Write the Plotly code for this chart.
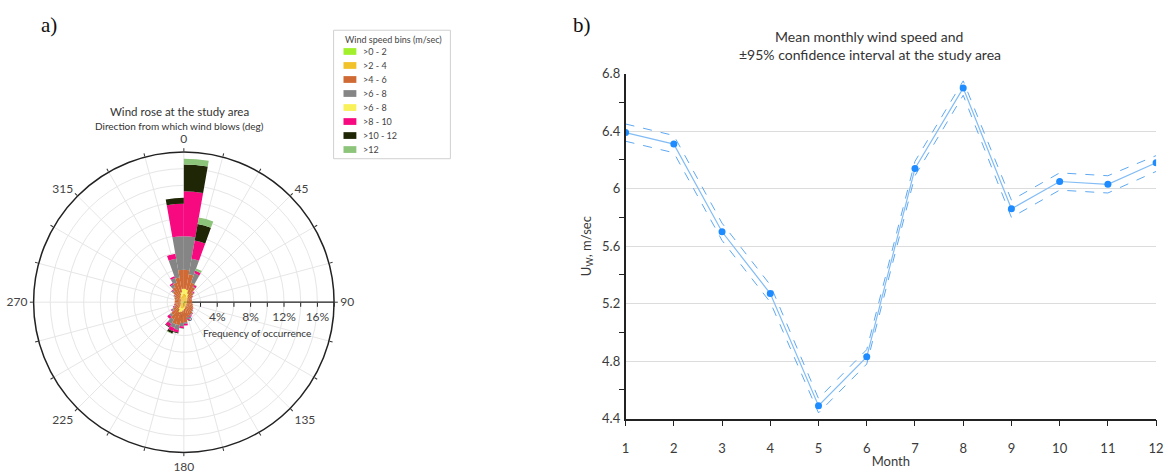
import plotly.graph_objects as go

W, H = 1175, 473

# ---------------- Wind rose data (% of time per 10-degree sector) ----------------
sector_deg = [5, 15, 25, 35, 45, 55, 65, 75, 85, 95, 105, 115, 125, 135, 145, 155, 165, 175,
              185, 195, 205, 215, 225, 235, 245, 255, 265, 275, 285, 295, 305, 315, 325, 335, 345, 355]

speed_0_2 = [0.10, 0.10, 0.10, 0.10, 0.10, 0.10, 0.10, 0.10, 0.10, 0.10, 0.10, 0.10,
             0.10, 0.10, 0.10, 0.10, 0.10, 0.10, 0.10, 0.10, 0.10, 0.10, 0.10, 0.10,
             0.10, 0.10, 0.10, 0.10, 0.10, 0.10, 0.10, 0.10, 0.10, 0.10, 0.10, 0.10]
speed_2_4 = [0.90, 0.80, 0.60, 0.50, 0.40, 0.30, 0.30, 0.30, 0.30, 0.30, 0.30, 0.30,
             0.30, 0.30, 0.40, 0.40, 0.40, 0.50, 0.60, 0.70, 0.70, 0.60, 0.50, 0.40,
             0.30, 0.30, 0.30, 0.30, 0.30, 0.30, 0.30, 0.40, 0.50, 0.60, 0.70, 0.90]
speed_6_8b = [0.60, 0.60, 0.40, 0.20, 0.10, 0.10, 0.00, 0.00, 0.00, 0.00, 0.00, 0.00,
              0.00, 0.00, 0.00, 0.00, 0.10, 0.20, 0.30, 0.40, 0.50, 0.30, 0.10, 0.00,
              0.00, 0.00, 0.00, 0.00, 0.00, 0.00, 0.00, 0.10, 0.10, 0.20, 0.40, 0.60]
speed_4_6 = [2.30, 1.90, 1.40, 1.30, 0.90, 0.70, 0.60, 0.60, 0.60, 0.60, 0.70, 0.80,
             0.90, 1.00, 1.10, 1.20, 1.30, 1.60, 1.50, 1.60, 1.50, 1.40, 1.30, 1.00,
             0.80, 0.70, 0.70, 0.70, 0.70, 0.80, 0.90, 1.10, 1.40, 1.60, 1.80, 2.30]
speed_6_8 = [4.00, 1.90, 1.20, 0.10, 0.10, 0.05, 0.00, 0.00, 0.00, 0.00, 0.00, 0.00,
             0.00, 0.10, 0.10, 0.10, 0.20, 0.20, 0.40, 0.60, 0.50, 0.60, 0.30, 0.20,
             0.10, 0.05, 0.00, 0.00, 0.00, 0.05, 0.10, 0.20, 0.40, 0.60, 2.30, 4.00]
speed_8_10 = [5.40, 2.20, 0.30, 0.20, 0.10, 0.05, 0.05, 0.00, 0.00, 0.00, 0.00, 0.00,
              0.05, 0.00, 0.05, 0.10, 0.10, 0.20, 0.20, 0.30, 0.40, 0.40, 0.30, 0.10,
              0.10, 0.05, 0.00, 0.00, 0.00, 0.00, 0.05, 0.10, 0.15, 0.20, 0.60, 3.90]
speed_10_12 = [3.20, 2.00, 0.00, 0.00, 0.00, 0.00, 0.00, 0.00, 0.00, 0.00, 0.00, 0.00,
               0.00, 0.00, 0.00, 0.00, 0.00, 0.00, 0.05, 0.10, 0.30, 0.10, 0.00, 0.00,
               0.00, 0.00, 0.00, 0.00, 0.00, 0.00, 0.00, 0.00, 0.00, 0.00, 0.00, 0.70]
speed_12 = [0.70, 0.80, 0.30, 0.10, 0.00, 0.00, 0.00, 0.00, 0.00, 0.00, 0.00, 0.00,
            0.00, 0.00, 0.00, 0.00, 0.00, 0.00, 0.00, 0.00, 0.05, 0.00, 0.00, 0.00,
            0.00, 0.00, 0.00, 0.00, 0.00, 0.00, 0.00, 0.00, 0.00, 0.00, 0.00, 0.00]

# speed bins in legend order: (label, values, colour)
legend_bins = [
    (">0 - 2", speed_0_2, "#a2f02c"),
    (">2 - 4", speed_2_4, "#f2c22a"),
    (">4 - 6", speed_4_6, "#cf6a34"),
    (">6 - 8", speed_6_8, "#858585"),
    (">6 - 8", speed_6_8b, "#f8f15a"),
    (">8 - 10", speed_8_10, "#f70a80"),
    (">10 - 12", speed_10_12, "#1f2606"),
    (">12", speed_12, "#8cc47a"),
]
# order in which the bins are stacked outward from the centre
stack_order = [0, 1, 4, 2, 3, 5, 6, 7]

angle_ticks = list(range(0, 360, 15))
angle_labels = [str(a) if a % 45 == 0 else "" for a in angle_ticks]
radial_ticks = [0, 2, 4, 6, 8, 10, 12, 14, 16, 18]
radial_labels = ["0%", "", "4%", "", "8%", "", "12%", "", "16%", ""]

# ---------------- Monthly mean wind speed ----------------
months = [1, 2, 3, 4, 5, 6, 7, 8, 9, 10, 11, 12]
mean_speed = [6.39, 6.31, 5.70, 5.27, 4.49, 4.83, 6.14, 6.70, 5.86, 6.05, 6.03, 6.18]
ci_upper = [6.45, 6.37, 5.76, 5.33, 4.54, 4.88, 6.19, 6.75, 5.92, 6.11, 6.09, 6.23]
ci_lower = [6.33, 6.25, 5.64, 5.21, 4.44, 4.78, 6.09, 6.65, 5.80, 5.99, 5.97, 6.12]
speed_ticks = [4.4, 4.8, 5.2, 5.6, 6.0, 6.4, 6.8]
speed_ticktext = ["4.4", "4.8", "5.2", "5.6", "6", "6.4", "6.8"]
speed_minor = [4.6, 5.0, 5.4, 5.8, 6.2, 6.6]


def px_x(x):
    return x / W


def px_y(y):
    return 1 - y / H


FONT = "Lato, 'Open Sans', Arial, sans-serif"
SERIF = "'Liberation Serif', 'DejaVu Serif', serif"
TXT = "#3a3a3a"

fig = go.Figure()

for i in stack_order:
    name, vals, col = legend_bins[i]
    fig.add_trace(go.Barpolar(
        r=vals, theta=sector_deg, width=[10] * len(sector_deg),
        name=name, marker=dict(color=col, line=dict(width=0)),
        showlegend=False, subplot="polar",
    ))

fig.add_trace(go.Scatter(
    x=months, y=ci_upper, mode="lines", showlegend=False,
    line=dict(color="#5ea8f2", width=1, dash="dash"), xaxis="x", yaxis="y",
))
fig.add_trace(go.Scatter(
    x=months, y=ci_lower, mode="lines", showlegend=False,
    line=dict(color="#5ea8f2", width=1, dash="dash"), xaxis="x", yaxis="y",
))
fig.add_trace(go.Scatter(
    x=months, y=mean_speed, mode="lines+markers", showlegend=False,
    line=dict(color="#84bdf5", width=1.2),
    marker=dict(color="#1e8cff", size=7), xaxis="x", yaxis="y",
))

# polar area slightly larger than the visible circle (plotly insets it a little)
cx, cy, rad = 181.7, 304.5, 155.5

fig.update_layout(
    width=W, height=H, margin=dict(l=0, r=0, t=0, b=0),
    paper_bgcolor="white", plot_bgcolor="white",
    font=dict(family=FONT, color=TXT, size=12),
    showlegend=False,
    polar=dict(
        domain=dict(x=[px_x(cx - rad), px_x(cx + rad)], y=[px_y(cy + rad), px_y(cy - rad)]),
        bgcolor="white", bargap=0, barmode="stack",
        angularaxis=dict(
            rotation=90, direction="clockwise",
            tickmode="array", tickvals=angle_ticks, ticktext=angle_labels,
            ticks="outside", ticklen=3, tickcolor="#333",
            showline=True, linecolor="#222", linewidth=1.5,
            gridcolor="#e6e6e6", tickfont=dict(size=12, color="#444"),
        ),
        radialaxis=dict(
            range=[0, 18], angle=0, tickangle=0, side="clockwise",
            tickmode="array", tickvals=radial_ticks, ticktext=radial_labels,
            ticks="outside", ticklen=4, tickcolor="#222",
            showline=True, linecolor="#222", linewidth=1.2,
            gridcolor="#e6e6e6", tickfont=dict(size=12, color="#444"),
            layer="below traces",
        ),
    ),
    xaxis=dict(
        domain=[px_x(628), px_x(1164)], range=[1, 12],
        tickvals=months, ticks="outside", ticklen=6, tickcolor="#222",
        ticklabelstandoff=11,
        showline=True, linecolor="#222", linewidth=1.5, showgrid=False,
        zeroline=False, tickfont=dict(size=13, color=TXT),
        title=dict(text="Month", font=dict(size=13, color=TXT), standoff=2),
        anchor="y",
    ),
    yaxis=dict(
        domain=[px_y(425), px_y(68)], range=[4.4, 6.8],
        tickvals=speed_ticks, ticktext=speed_ticktext, ticks="",
        ticklabelstandoff=1,
        showline=True, linecolor="#222", linewidth=1.5,
        showgrid=True, gridcolor="#dcdcdc", gridwidth=1, zeroline=False,
        tickfont=dict(size=13, color=TXT),
        minor=dict(tickvals=speed_minor, ticks="outside", ticklen=5,
                   tickcolor="#222", showgrid=False),
        title=dict(text="U<sub>W</sub>, m/sec", font=dict(size=13, color=TXT), standoff=8),
        anchor="x",
    ),
)

annotations = [
    dict(text="a)", x=px_x(45), y=px_y(18), font=dict(family=SERIF, size=21, color="#111")),
    dict(text="b)", x=px_x(584), y=px_y(18), font=dict(family=SERIF, size=21, color="#111")),
    dict(text="Wind rose at the study area", x=px_x(177), y=px_y(107),
         font=dict(size=11.5, color="#333")),
    dict(text="Direction from which wind blows (deg)", x=px_x(177), y=px_y(122),
         font=dict(size=10, color="#333")),
    dict(text="Frequency of occurrence", x=px_x(256), y=px_y(336),
         font=dict(size=10, color="#333")),
    dict(text="Mean monthly wind speed and", x=px_x(874), y=px_y(30),
         font=dict(size=14, color="#333")),
    dict(text="±95% confidence interval at the study area", x=px_x(875), y=px_y(48),
         font=dict(size=14, color="#333")),
]
for a in annotations:
    a.update(xanchor="center")

# speed-bin key: framed box with a swatch and label per bin
shapes = [dict(type="rect", xref="paper", yref="paper",
               x0=px_x(333), x1=px_x(451), y0=px_y(156), y1=px_y(23),
               line=dict(color="#d0d0d0", width=1), fillcolor="white", layer="below")]
annotations.append(dict(text="Wind speed bins (m/sec)", x=px_x(342), y=px_y(33),
                        xanchor="left", font=dict(size=9, color="#444")))
key_rows = [45, 59.5, 74, 88.5, 103, 117.5, 132, 146.5]
for (name, vals, col), yy in zip(legend_bins, key_rows):
    shapes.append(dict(type="rect", xref="paper", yref="paper",
                       x0=px_x(343), x1=px_x(356), y0=px_y(yy + 3.5), y1=px_y(yy - 3.5),
                       line=dict(width=0), fillcolor=col))
    annotations.append(dict(text=name, x=px_x(361), y=px_y(yy), xanchor="left",
                            font=dict(size=9, color="#444")))

for a in annotations:
    a.update(xref="paper", yref="paper", showarrow=False, yanchor="middle")
fig.update_layout(annotations=annotations, shapes=shapes)

fig.write_html("out.html")
